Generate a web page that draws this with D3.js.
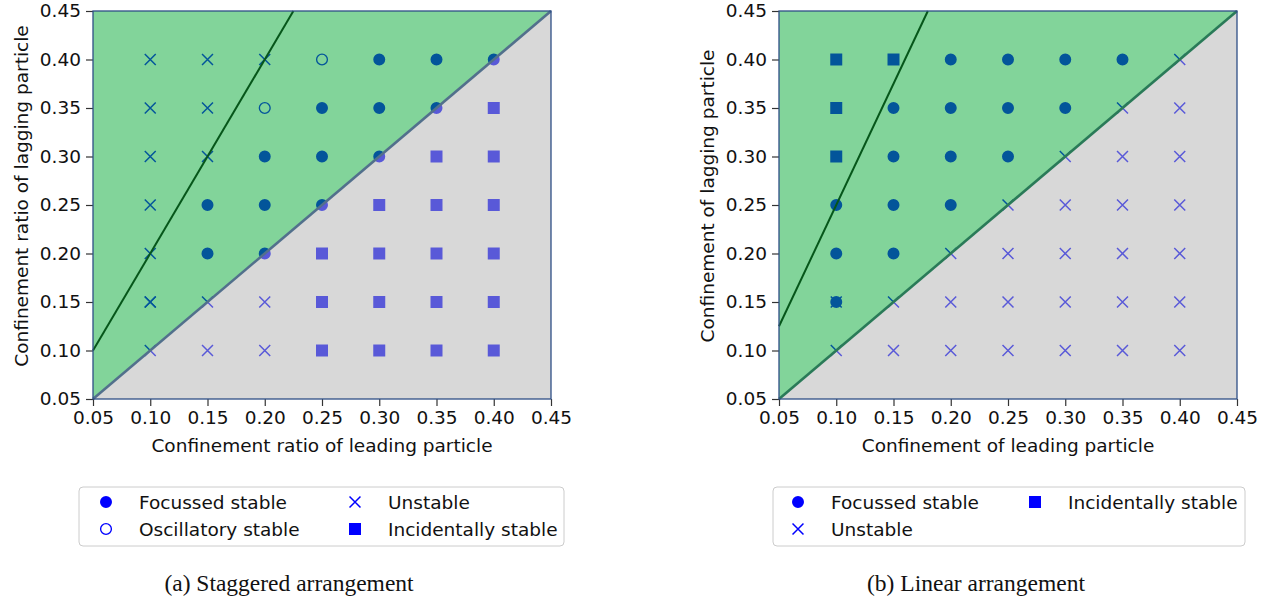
<!DOCTYPE html>
<html>
<head>
<meta charset="utf-8">
<script src="https://cdn.jsdelivr.net/npm/d3@7"></script>
<style>
  body { margin: 0; background: #fff; }
  text { font-family: "DejaVu Sans", sans-serif; }
</style>
</head>
<body>
<div class="chart"></div>
<script>
var width = 1270,
    height = 600

// tick values shared by both panels
var tickValues = [0.05, 0.10, 0.15, 0.20, 0.25, 0.30, 0.35, 0.40, 0.45]

// (a) staggered arrangement, [leading, lagging]
var staggeredFocussed = [
  [0.30, 0.40], [0.35, 0.40], [0.40, 0.40],
  [0.25, 0.35], [0.30, 0.35], [0.35, 0.35],
  [0.20, 0.30], [0.25, 0.30], [0.30, 0.30],
  [0.15, 0.25], [0.20, 0.25], [0.25, 0.25],
  [0.15, 0.20], [0.20, 0.20]
]
var staggeredOscillatory = [[0.25, 0.40], [0.20, 0.35]]
var staggeredUnstable = [
  [0.10, 0.40], [0.15, 0.40], [0.20, 0.40],
  [0.10, 0.35], [0.15, 0.35],
  [0.10, 0.30], [0.15, 0.30],
  [0.10, 0.25],
  [0.10, 0.20],
  [0.10, 0.15], [0.10, 0.15], [0.15, 0.15], [0.20, 0.15],
  [0.10, 0.10], [0.15, 0.10], [0.20, 0.10]
]
var staggeredIncidental = [
  [0.40, 0.35],
  [0.35, 0.30], [0.40, 0.30],
  [0.30, 0.25], [0.35, 0.25], [0.40, 0.25],
  [0.25, 0.20], [0.30, 0.20], [0.35, 0.20], [0.40, 0.20],
  [0.25, 0.15], [0.30, 0.15], [0.35, 0.15], [0.40, 0.15],
  [0.25, 0.10], [0.30, 0.10], [0.35, 0.10], [0.40, 0.10]
]
var staggeredCurve = [[0.05, 0.10], [0.225, 0.45]]

// (b) linear arrangement
var linearFocussed = [
  [0.20, 0.40], [0.25, 0.40], [0.30, 0.40], [0.35, 0.40],
  [0.15, 0.35], [0.20, 0.35], [0.25, 0.35], [0.30, 0.35],
  [0.15, 0.30], [0.20, 0.30], [0.25, 0.30],
  [0.10, 0.25], [0.15, 0.25], [0.20, 0.25],
  [0.10, 0.20], [0.15, 0.20],
  [0.10, 0.15]
]
var linearIncidental = [[0.10, 0.40], [0.15, 0.40], [0.10, 0.35], [0.10, 0.30]]
var linearUnstable = [
  [0.40, 0.40],
  [0.35, 0.35], [0.40, 0.35],
  [0.30, 0.30], [0.35, 0.30], [0.40, 0.30],
  [0.25, 0.25], [0.30, 0.25], [0.35, 0.25], [0.40, 0.25],
  [0.20, 0.20], [0.25, 0.20], [0.30, 0.20], [0.35, 0.20], [0.40, 0.20],
  [0.10, 0.15], [0.15, 0.15], [0.20, 0.15], [0.25, 0.15], [0.30, 0.15], [0.35, 0.15], [0.40, 0.15],
  [0.10, 0.10], [0.15, 0.10], [0.20, 0.10], [0.25, 0.10], [0.30, 0.10], [0.35, 0.10], [0.40, 0.10]
]
var linearCurve = [[0.05, 0.125], [0.18, 0.45]]

var svg = d3.select(".chart")
  .append("svg")
  .attr("width", width)
  .attr("height", height)

var markBlue = "#0000ff"
var fontSize = 18.5

var symCircle = d3.symbol(d3.symbolCircle, 113)
var symSquare = d3.symbol(d3.symbolSquare, 144)
var symTimes = d3.symbol(d3.symbolTimes, 80)

function drawPanel(p) {
  var x = d3.scaleLinear().domain([0.05, 0.45]).range([p.left, p.left + 458])
  var y = d3.scaleLinear().domain([0.05, 0.45]).range([399, 11])
  var g = svg.append("g")

  // markers first, the region fills go on top with alpha
  var marks = g.append("g")
  p.series.forEach(function(s) {
    marks.selectAll(null)
      .data(s.data)
      .enter()
      .append("path")
      .attr("d", s.type == "square" ? symSquare : s.type == "x" ? symTimes : symCircle)
      .attr("fill", s.type == "x" || s.type == "open" ? "none" : markBlue)
      .attr("stroke", s.type == "x" || s.type == "open" ? markBlue : "none")
      .attr("stroke-width", 1.5)
      .attr("transform", function(d) {
        var t = "translate(" + x(d[0]) + "," + y(d[1]) + ")";
        return s.type == "open" ? t + " scale(0.9)" : t;
      })
  })

  var line = d3.line().x(function(d) { return x(d[0]); }).y(function(d) { return y(d[1]); })

  g.append("path")
    .attr("d", line([[0.05, 0.05], [0.05, 0.45], [0.45, 0.45]]) + "Z")
    .attr("fill", "rgb(5,169,53)")
    .attr("fill-opacity", 0.5)
  g.append("path")
    .attr("d", line([[0.05, 0.05], [0.45, 0.05], [0.45, 0.45]]) + "Z")
    .attr("fill", "rgb(177,177,177)")
    .attr("fill-opacity", 0.5)

  g.append("path")
    .attr("d", line([[0.05, 0.05], [0.45, 0.45]]))
    .attr("stroke", p.diagColor)
    .attr("stroke-width", p.diagWidth)
    .attr("fill", "none")

  g.append("path")
    .attr("d", line(p.curve))
    .attr("stroke", "#06561a")
    .attr("stroke-width", 2)
    .attr("fill", "none")

  // axes
  var fmt = d3.format(".2f")
  var ax = g.append("g")
    .attr("transform", "translate(0,399)")
    .call(d3.axisBottom(x).tickValues(tickValues).tickFormat(fmt).tickSize(7).tickPadding(5))
  var ay = g.append("g")
    .attr("transform", "translate(" + p.left + ",0)")
    .call(d3.axisLeft(y).tickValues(tickValues).tickFormat(fmt).tickSize(7).tickPadding(5))
  ;[ax, ay].forEach(function(a) {
    a.select(".domain").remove()
    a.selectAll(".tick line").attr("stroke", "#333").attr("stroke-width", 1.2)
    a.selectAll(".tick text")
      .attr("fill", "#111")
      .style("font-family", "DejaVu Sans")
      .style("font-size", fontSize + "px")
  })

  g.append("rect")
    .attr("x", x(0.05))
    .attr("y", y(0.45))
    .attr("width", x(0.45) - x(0.05))
    .attr("height", y(0.05) - y(0.45))
    .attr("fill", "none")
    .attr("stroke", "#2e4f86")
    .attr("stroke-width", 1.3)

  g.append("text")
    .attr("x", (x(0.05) + x(0.45)) / 2)
    .attr("y", 452)
    .attr("text-anchor", "middle")
    .attr("font-size", fontSize)
    .attr("fill", "#111")
    .text(p.xLabel)

  g.append("text")
    .attr("transform", "translate(" + p.yLabelX + ",196) rotate(-90)")
    .attr("text-anchor", "middle")
    .attr("font-size", fontSize)
    .attr("fill", "#111")
    .text(p.yLabel)

  // legend
  var lg = g.append("g")
  lg.append("rect")
    .attr("x", p.legend.x)
    .attr("y", 487)
    .attr("width", p.legend.w)
    .attr("height", 59)
    .attr("rx", 4)
    .attr("fill", "#fff")
    .attr("stroke", "#cccccc")
    .attr("stroke-width", 1)
  p.legend.items.forEach(function(it) {
    var cx = it.col == 0 ? p.legend.m1 : p.legend.m2
    var cy = it.row == 0 ? 502 : 529
    lg.append("path")
      .attr("transform", "translate(" + cx + "," + cy + ")" + (it.type == "open" ? " scale(0.9)" : ""))
      .attr("d", it.type == "square" ? symSquare : it.type == "x" ? symTimes : symCircle)
      .attr("fill", it.type == "x" || it.type == "open" ? "none" : markBlue)
      .attr("stroke", it.type == "x" || it.type == "open" ? markBlue : "none")
      .attr("stroke-width", 1.5)
    lg.append("text")
      .attr("x", cx + 33)
      .attr("y", cy + 6.5)
      .attr("font-size", fontSize)
      .attr("fill", "#111")
      .text(it.label)
  })

  g.append("text")
    .attr("x", p.captionX)
    .attr("y", 591)
    .attr("text-anchor", "middle")
    .style("font-family", "Liberation Serif, serif")
    .attr("font-size", 23.5)
    .attr("fill", "#111")
    .text(p.caption)
}

drawPanel({
  left: 93,
  series: [
    {type: "circle", data: staggeredFocussed},
    {type: "open", data: staggeredOscillatory},
    {type: "x", data: staggeredUnstable},
    {type: "square", data: staggeredIncidental}
  ],
  curve: staggeredCurve,
  diagColor: "#52708c",
  diagWidth: 2.6,
  xLabel: "Confinement ratio of leading particle",
  yLabel: "Confinement ratio of lagging particle",
  yLabelX: 28,
  legend: {
    x: 79, w: 485, m1: 106, m2: 355,
    items: [
      {col: 0, row: 0, type: "circle", label: "Focussed stable"},
      {col: 0, row: 1, type: "open", label: "Oscillatory stable"},
      {col: 1, row: 0, type: "x", label: "Unstable"},
      {col: 1, row: 1, type: "square", label: "Incidentally stable"}
    ]
  },
  caption: "(a) Staggered arrangement",
  captionX: 289
})

drawPanel({
  left: 779,
  series: [
    {type: "circle", data: linearFocussed},
    {type: "square", data: linearIncidental},
    {type: "x", data: linearUnstable}
  ],
  curve: linearCurve,
  diagColor: "#2a7a58",
  diagWidth: 2.6,
  xLabel: "Confinement of leading particle",
  yLabel: "Confinement of lagging particle",
  yLabelX: 714,
  legend: {
    x: 773, w: 472, m1: 798, m2: 1035,
    items: [
      {col: 0, row: 0, type: "circle", label: "Focussed stable"},
      {col: 0, row: 1, type: "x", label: "Unstable"},
      {col: 1, row: 0, type: "square", label: "Incidentally stable"}
    ]
  },
  caption: "(b) Linear arrangement",
  captionX: 976
})
</script>
</body>
</html>
